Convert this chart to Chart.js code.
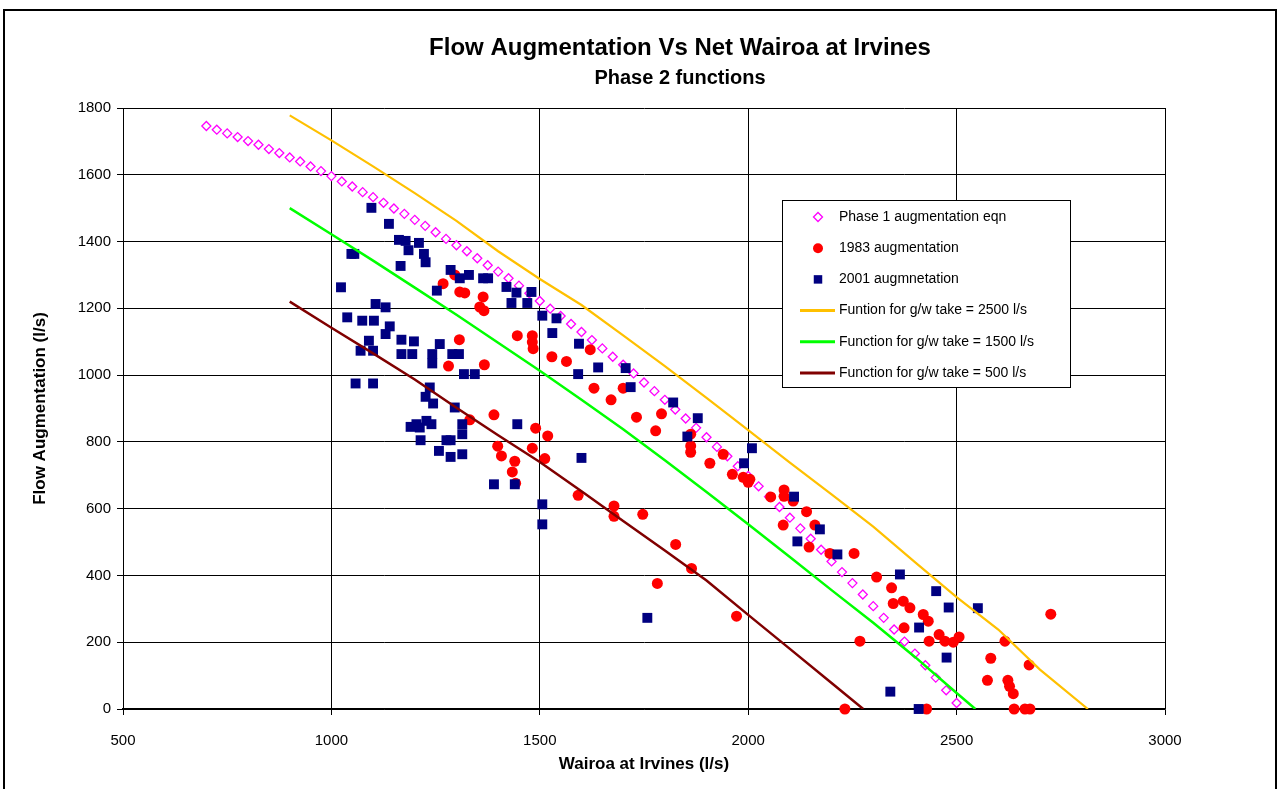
<!DOCTYPE html>
<html>
<head>
<meta charset="utf-8">
<script src="https://cdn.jsdelivr.net/npm/chart.js@4.4.0/dist/chart.umd.min.js"></script>
<style>
  body { margin: 0; background: #fff; }
  #wrap { width: 1280px; height: 789px; }
</style>
</head>
<body>
<div id="wrap"><canvas id="myChart"></canvas></div>
<script>
// titles
const chartTitle = "Flow Augmentation Vs Net Wairoa at Irvines";
const chartSubtitle = "Phase 2 functions";
const xTitle = "Wairoa at Irvines (l/s)";
const yTitle = "Flow Augmentation (l/s)";

// series names
const seriesNames = [
  "Phase 1 augmentation eqn",
  "1983 augmentation",
  "2001 augmnetation",
  "Funtion for g/w take = 2500 l/s",
  "Function for g/w take = 1500 l/s",
  "Function for g/w take = 500 l/s",
];

// Phase 1 equation (diamonds)
const phase1X = [700, 725, 750, 775, 800, 825, 850, 875, 900, 925, 950, 975, 1000, 1025, 1050, 1075, 1100, 1125, 1150, 1175,
  1200, 1225, 1250, 1275, 1300, 1325, 1350, 1375, 1400, 1425, 1450, 1475, 1500, 1525, 1550, 1575, 1600, 1625, 1650, 1675,
  1700, 1725, 1750, 1775, 1800, 1825, 1850, 1875, 1900, 1925, 1950, 1975, 2000, 2025, 2050, 2075, 2100, 2125, 2150, 2175,
  2200, 2225, 2250, 2275, 2300, 2325, 2350, 2375, 2400, 2425, 2450, 2475, 2500];
const phase1Y = [1746, 1735, 1724, 1713, 1701, 1690, 1677, 1665, 1652, 1640, 1625, 1611, 1596, 1580, 1565, 1548, 1533, 1516, 1499, 1483,
  1465, 1447, 1428, 1408, 1389, 1371, 1350, 1329, 1310, 1290, 1268, 1245, 1222, 1199, 1177, 1153, 1129, 1105, 1080, 1055,
  1031, 1005, 978, 952, 926, 897, 870, 842, 814, 785, 757, 727, 698, 667, 636, 605, 573, 541, 510, 477,
  442, 410, 377, 343, 308, 273, 238, 202, 166, 131, 94, 56, 18];

// 1983 augmentation (red circles)
const redX = [1268, 1296, 1308, 1320, 1364, 1356, 1366, 1307, 1446, 1482, 1482, 1484, 1529, 1564, 1621, 1281, 1367, 1630, 1671, 1700,
  1732, 1792, 1778, 1862, 1862, 1862, 1908, 1940, 1962, 1988, 2000, 2004, 1332, 1390, 1490, 1519, 1399, 1408, 1440, 1434,
  1442, 1482, 1512, 1592, 1678, 1678, 1747, 1826, 1864, 1782, 1972, 2054, 2086, 2086, 2108, 2140, 2084, 2160, 2146, 2196,
  2254, 2308, 2344, 2348, 2372, 2388, 2420, 2432, 2374, 2434, 2458, 2472, 2492, 2506, 2268, 2232, 2428, 2582, 2574, 2726,
  2616, 2674, 2623, 2627, 2636, 2638, 2664, 2676];
const redY = [1274, 1300, 1249, 1246, 1234, 1204, 1193, 1106, 1118, 1118, 1099, 1079, 1055, 1041, 1076, 1027, 1031, 961, 926, 961,
  874, 884, 833, 823, 788, 769, 736, 763, 703, 694, 679, 688, 866, 881, 841, 818, 787, 758, 742, 710,
  676, 781, 750, 640, 608, 577, 583, 493, 421, 376, 278, 635, 656, 637, 623, 591, 551, 551, 485, 466,
  466, 395, 363, 316, 323, 303, 283, 263, 243, 203, 223, 203, 200, 216, 203, 0, 0, 152, 86, 284,
  203, 132, 86, 68, 46, 0, 0, 0];

// 2001 augmentation (blue squares)
const blueX = [1096, 1138, 1162, 1178, 1185, 1210, 1222, 1226, 1166, 1048, 1055, 1023, 1286, 1308, 1330, 1253, 1364, 1376, 1420, 1444,
  1432, 1470, 1480, 1106, 1130, 1038, 1074, 1102, 1140, 1130, 1090, 1168, 1198, 1260, 1070, 1100, 1168, 1194, 1242, 1242,
  1290, 1306, 1318, 1344, 1058, 1100, 1236, 1226, 1244, 1296, 1190, 1204, 1212, 1228, 1240, 1314, 1314, 1214, 1276, 1286,
  1258, 1286, 1314, 1446, 1390, 1440, 1506, 1506, 1600, 1592, 1640, 1506, 1540, 1530, 1594, 1706, 1718, 1758, 1820, 1879,
  1854, 2009, 1990, 2110, 2172, 2118, 2214, 2364, 2451, 2481, 2551, 2410, 2476, 2341, 2409];
const blueY = [1501, 1453, 1405, 1402, 1374, 1396, 1363, 1338, 1327, 1363, 1363, 1263, 1315, 1290, 1300, 1253, 1290, 1290, 1264, 1247,
  1216, 1216, 1249, 1213, 1203, 1173, 1163, 1163, 1146, 1123, 1103, 1106, 1101, 1093, 1073, 1073, 1063, 1063, 1063, 1035,
  1063, 1063, 1003, 1003, 975, 975, 963, 935, 915, 903, 845, 853, 843, 863, 853, 853, 823, 805, 805, 805,
  773, 755, 763, 853, 673, 673, 613, 553, 752, 1003, 1023, 1178, 1170, 1126, 1094, 1021, 964, 273, 918, 871,
  816, 781, 736, 636, 538, 502, 463, 403, 353, 304, 302, 244, 154, 52, 0];

// function lines
const take2500X = [900, 1000, 1100, 1200, 1300, 1400, 1500, 1600, 1700, 1800, 1900, 2000, 2100, 2200, 2300, 2400, 2500, 2600, 2700, 2815];
const take2500Y = [1778, 1703, 1625, 1545, 1462, 1371, 1288, 1210, 1119, 1027, 932, 835, 738, 643, 546, 440, 335, 238, 118, 0];
const take1500X = [900, 1000, 1100, 1200, 1300, 1400, 1500, 1600, 1700, 1800, 1900, 2000, 2100, 2200, 2300, 2400, 2500, 2545];
const take1500Y = [1500, 1422, 1343, 1262, 1181, 1097, 1013, 926, 838, 745, 650, 553, 455, 356, 258, 156, 48, 0];
const take500X = [900, 1000, 1100, 1200, 1300, 1400, 1500, 1600, 1700, 1800, 1900, 2000, 2100, 2200, 2276];
const take500Y = [1220, 1142, 1065, 987, 902, 820, 740, 652, 563, 475, 385, 282, 180, 78, 0];

// axis ticks
const xTicks = [500, 1000, 1500, 2000, 2500, 3000];
const yTicks = [0, 200, 400, 600, 800, 1000, 1200, 1400, 1600, 1800];

const FONT = '"Liberation Sans", Arial, sans-serif';
const pts = (xs, ys) => xs.map((x, i) => ({ x: x, y: ys[i] }));

const datasets = [
  {
    label: seriesNames[0], data: pts(phase1X, phase1Y),
    pointStyle: "rectRot", pointRadius: 4.5, pointBorderWidth: 1.3,
    pointBackgroundColor: "#ffffff", pointBorderColor: "#ff00ff",
    showLine: false, order: 3, clip: false,
  },
  {
    label: seriesNames[1], data: pts(redX, redY),
    pointStyle: "circle", pointRadius: 5.5, pointBorderWidth: 0,
    pointBackgroundColor: "#ff0000", pointBorderColor: "#ff0000",
    showLine: false, order: 2, clip: false,
  },
  {
    label: seriesNames[2], data: pts(blueX, blueY),
    pointStyle: "rect", pointRadius: 7, pointBorderWidth: 0,
    pointBackgroundColor: "#000080", pointBorderColor: "#000080",
    showLine: false, order: 1, clip: false,
  },
  {
    label: seriesNames[3], data: pts(take2500X, take2500Y),
    showLine: true, pointRadius: 0, borderColor: "#ffc000", borderWidth: 2.2, order: 0,
  },
  {
    label: seriesNames[4], data: pts(take1500X, take1500Y),
    showLine: true, pointRadius: 0, borderColor: "#00ff00", borderWidth: 2.5, order: 0,
  },
  {
    label: seriesNames[5], data: pts(take500X, take500Y),
    showLine: true, pointRadius: 0, borderColor: "#800000", borderWidth: 2.5, order: 0,
  },
];

// 타이틀, 테두리, 범례 그리기
const decor = {
  id: "decor",
  beforeDraw(chart) {
    const c = chart.ctx;
    c.save();
    c.fillStyle = "#fff";
    c.fillRect(0, 0, chart.width, chart.height);
    c.strokeStyle = "#000";
    c.lineWidth = 2;
    c.strokeRect(4, 10, 1272, 800);
    c.fillStyle = "#000";
    c.textAlign = "center";
    c.textBaseline = "middle";
    c.font = "bold 24px " + FONT;
    c.fillText(chartTitle, 680, 48);
    c.font = "bold 20px " + FONT;
    c.fillText(chartSubtitle, 680, 78);
    c.restore();
  },
  afterDraw(chart) {
    const c = chart.ctx;
    const box = { x: 782, y: 200, w: 288, h: 187 };
    c.save();
    c.fillStyle = "#fff";
    c.fillRect(box.x, box.y, box.w, box.h);
    c.strokeStyle = "#000";
    c.lineWidth = 1;
    c.strokeRect(box.x + 0.5, box.y + 0.5, box.w, box.h);
    c.font = "14px " + FONT;
    c.textAlign = "left";
    c.textBaseline = "middle";
    chart.data.datasets.forEach((ds, i) => {
      const y = box.y + 17 + i * 31.2;
      if (ds.showLine) {
        c.strokeStyle = ds.borderColor;
        c.lineWidth = 3;
        c.beginPath();
        c.moveTo(800, y);
        c.lineTo(835, y);
        c.stroke();
      } else {
        c.fillStyle = ds.pointBackgroundColor;
        c.strokeStyle = ds.pointBorderColor;
        c.lineWidth = ds.pointBorderWidth;
        const r = ds.pointStyle === "rectRot" ? 4.5 : (ds.pointStyle === "rect" ? 6 : 5);
        Chart.helpers.drawPoint(c, {
          pointStyle: ds.pointStyle, radius: r,
          borderWidth: ds.pointBorderWidth, rotation: 0,
        }, 818, y);
      }
      c.fillStyle = "#000";
      c.fillText(ds.label, 839, y);
    });
    c.restore();
  },
};

const ctx = document.getElementById("myChart").getContext("2d");

const myChart = new Chart(ctx, {
  type: "scatter",
  data: { datasets: datasets },
  plugins: [decor],
  options: {
    responsive: true,
    maintainAspectRatio: false,
    animation: false,
    layout: { padding: { top: 108, right: 115, bottom: 0, left: 0 } },
    plugins: {
      legend: { display: false },
      title: { display: false },
      tooltip: { enabled: false },
    },
    scales: {
      x: {
        type: "linear",
        min: 500,
        max: 3000,
        afterBuildTicks: (s) => { s.ticks = xTicks.map((v) => ({ value: v })); },
        afterFit: (s) => { s.height = 80; },
        ticks: { color: "#000", font: { family: FONT, size: 15 }, padding: 17, callback: (v) => String(v) },
        grid: { color: "#000", lineWidth: 1, tickLength: 6 },
        border: { color: "#000", width: 1.5 },
        title: {
          display: true, text: xTitle, color: "#000",
          font: { family: FONT, size: 17, weight: "bold" },
          padding: { top: 0, bottom: 14 },
        },
      },
      y: {
        type: "linear",
        min: 0,
        max: 1800,
        afterBuildTicks: (s) => { s.ticks = yTicks.map((v) => ({ value: v })); },
        afterFit: (s) => { s.width = 123; },
        ticks: { color: "#000", font: { family: FONT, size: 15 }, padding: 6, callback: (v) => String(v) },
        grid: { color: "#000", lineWidth: 1, tickLength: 6 },
        border: { color: "#000", width: 1 },
        title: {
          display: true, text: yTitle, color: "#000",
          font: { family: FONT, size: 17, weight: "bold" },
          padding: { top: 30, bottom: 0 },
        },
      },
    },
  },
});
</script>
</body>
</html>
